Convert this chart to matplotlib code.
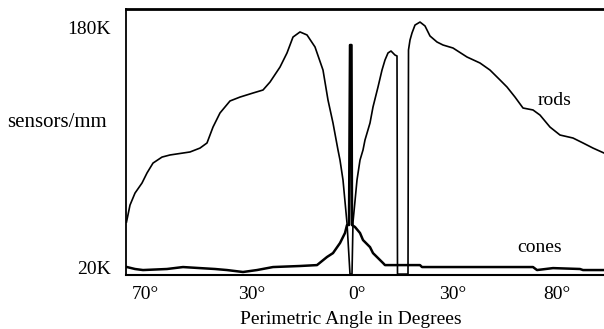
import matplotlib
matplotlib.use("Agg")
import matplotlib.pyplot as plt

plt.rcParams['font.family'] = ['Liberation Serif', 'DejaVu Serif']

# horizontal position (display units, 0 = fovea) and density in thousands/mm
rods_x = [-230.5, -227, -222, -215, -210, -204, -195, -187, -167, -157, -150, -144,
          -137, -127, -117, -104, -94, -87, -77, -70, -64, -57, -50, -42, -34, -29,
          -24, -19, -17, -14, -10, -9, -7, -5, -4, 0, 3, 6, 8, 13, 16, 21, 25, 28,
          31, 34, 38, 40, 40.5, 51, 51.5, 53, 55, 58, 63, 68, 73, 80, 86, 96, 110,
          123, 133, 143, 150, 158, 166, 176, 183, 193, 203, 216, 226, 236, 247]
rods_y = [50, 61.3, 69.3, 76, 82.7, 89.3, 93.3, 94.7, 96.7, 99.3, 102.7, 113.3,
          122.7, 130.7, 133.3, 136, 138, 143.3, 153.3, 162.7, 173.3, 176.7, 174.7,
          166.7, 151.3, 131.3, 116, 98, 91.3, 78, 49.3, 38, 15.3, 15.3, 50, 78,
          91.3, 98, 104.7, 116, 126.7, 140, 151.3, 158, 162.7, 164, 161.3, 160.7,
          15.3, 15.3, 164.7, 171.3, 176, 181.3, 183.3, 180.7, 174, 170, 168, 166,
          160, 156, 151.3, 144.7, 140, 133.3, 126, 124.7, 121.3, 113.3, 108, 106,
          102.7, 99.3, 96]

cones_x = [-230, -222, -214, -190, -174, -157, -142, -130, -114, -100, -84, -57,
           -40, -30, -24, -17, -12, -10, -8, -7, -5.5, -5, -2, 3, 6, 13, 16, 26,
           28, 63, 65, 176, 180, 196, 223, 226, 247]
cones_y = [20, 18.7, 18, 18.7, 20, 19.3, 18.7, 18, 16.7, 18, 20, 20.7, 21.3, 26.7,
           29.3, 36, 42.7, 48, 48, 168, 168, 48, 46.7, 42.7, 38, 33.3, 29.3, 22.7,
           21.3, 21.3, 20, 20, 18, 19.3, 18.7, 18, 18]

tick_pos = [-212, -105, 0, 96, 200]
tick_labels = ['70°', '30°', '0°', '30°', '80°']

fs = 14

fig = plt.figure(figsize=(6.04, 3.29), dpi=100)
ax = fig.add_axes([126 / 604, 1 - 275 / 329, 478 / 604, 266 / 329])

ax.plot(rods_x, rods_y, color='black', linewidth=1.2)
ax.plot(cones_x, cones_y, color='black', linewidth=1.8)

ax.text(198, 131, 'rods', fontsize=fs, ha='center', va='center')
ax.text(183, 33, 'cones', fontsize=fs, ha='center', va='center')

ax.set_xlim(-231, 247)
ax.set_ylim(14.7, 192)
ax.set_xticks(tick_pos)
ax.set_xticklabels(tick_labels, fontsize=fs)
ax.set_yticks([20, 180])
ax.set_yticklabels(['20K', '180K'], fontsize=fs)
ax.tick_params(length=0, pad=11)
ax.tick_params(axis='x', pad=8)
ax.set_xlabel('Perimetric Angle in Degrees', fontsize=fs)
ax.xaxis.set_label_coords(0.47, -0.135)
ax.set_ylabel('sensors/mm', fontsize=15, rotation=0, ha='right', va='center')
ax.yaxis.set_label_coords(-0.04, 0.575)

ax.spines['right'].set_visible(False)
ax.spines['top'].set_linewidth(2)
ax.spines['left'].set_linewidth(1.3)
ax.spines['bottom'].set_linewidth(1.5)

fig.savefig('out.png', dpi=100)
